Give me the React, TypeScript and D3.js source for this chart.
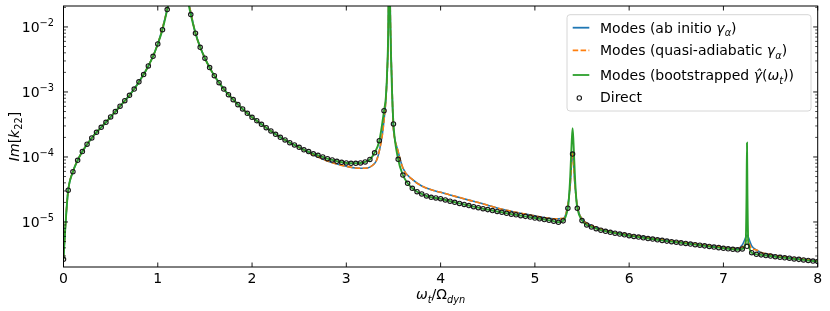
import { useEffect, useRef } from 'react';
import * as d3 from 'd3';

// Direct evaluation, sampled every 0.05 in omega_t / Omega_dyn (0 .. 8)
const directStep = 0.05;
const directY = [
    2.67e-6, 3.08e-5, 5.94e-5, 8.89e-5, 1.21e-4, 1.57e-4, 1.96e-4, 2.40e-4, 2.86e-4, 3.42e-4,
    4.12e-4, 4.98e-4, 6.03e-4, 7.35e-4, 8.89e-4, 1.11e-3, 1.43e-3, 1.85e-3, 2.51e-3, 3.54e-3,
    5.47e-3, 9.08e-3, 1.85e-2, 4.0e-2, 9.0e-2, 8.0e-2, 3.5e-2, 1.55e-2, 8.0e-3, 4.87e-3,
    3.30e-3, 2.37e-3, 1.78e-3, 1.39e-3, 1.11e-3, 9.08e-4, 7.62e-4, 6.38e-4, 5.47e-4, 4.70e-4,
    4.08e-4, 3.61e-4, 3.18e-4, 2.82e-4, 2.51e-4, 2.23e-4, 2.01e-4, 1.83e-4, 1.66e-4, 1.53e-4,
    1.41e-4, 1.29e-4, 1.21e-4, 1.12e-4, 1.06e-4, 1.00e-4, 9.42e-5, 9.00e-5, 8.59e-5, 8.28e-5,
    8.09e-5, 8.00e-5, 8.00e-5, 8.09e-5, 8.38e-5, 9.16e-5, 1.16e-4, 1.78e-4, 5.15e-4, 6.0e-2,
    3.22e-4, 9.22e-5, 5.28e-5, 3.94e-5, 3.30e-5, 2.92e-5, 2.70e-5, 2.51e-5, 2.40e-5, 2.34e-5,
    2.28e-5, 2.18e-5, 2.09e-5, 2.01e-5, 1.93e-5, 1.86e-5, 1.79e-5, 1.72e-5, 1.66e-5, 1.60e-5,
    1.55e-5, 1.50e-5, 1.45e-5, 1.41e-5, 1.36e-5, 1.32e-5, 1.29e-5, 1.25e-5, 1.22e-5, 1.19e-5,
    1.15e-5, 1.12e-5, 1.09e-5, 1.06e-5, 1.03e-5, 9.89e-6, 1.04e-5, 1.63e-5, 1.11e-4, 1.63e-5,
    1.05e-5, 8.99e-6, 8.38e-6, 7.89e-6, 7.48e-6, 7.19e-6, 6.95e-6, 6.73e-6, 6.52e-6, 6.34e-6,
    6.15e-6, 6.00e-6, 5.86e-6, 5.71e-6, 5.57e-6, 5.46e-6, 5.32e-6, 5.21e-6, 5.08e-6, 4.98e-6,
    4.88e-6, 4.77e-6, 4.67e-6, 4.57e-6, 4.48e-6, 4.39e-6, 4.29e-6, 4.20e-6, 4.11e-6, 4.03e-6,
    3.94e-6, 3.87e-6, 3.80e-6, 3.73e-6, 3.85e-6, 4.23e-6, 3.37e-6, 3.18e-6, 3.12e-6, 3.05e-6,
    2.99e-6, 2.92e-6, 2.86e-6, 2.81e-6, 2.77e-6, 2.70e-6, 2.66e-6, 2.61e-6, 2.56e-6, 2.51e-6,
    2.47e-6,
];

// Mode sums (ab initio and quasi-adiabatic overlap almost everywhere), every 0.1
const modesStep = 0.1;
const modesGridY = [
    2.67e-6, 5.94e-5, 1.21e-4, 1.96e-4, 2.86e-4, 4.12e-4, 6.03e-4, 8.89e-4, 1.43e-3, 2.51e-3,
    5.47e-3, 1.85e-2, 8.0e-2, 3.5e-2, 8.0e-3, 3.3e-3, 1.78e-3, 1.11e-3, 7.62e-4, 5.47e-4,
    4.08e-4, 3.18e-4, 2.51e-4, 2.01e-4, 1.66e-4, 1.40e-4, 1.17e-4, 1.00e-4, 8.67e-5, 7.80e-5,
    7.19e-5, 6.78e-5, 6.70e-5, 7.94e-5, 3.71e-4, 2.60e-4, 6.78e-5, 4.51e-5, 3.58e-5, 3.13e-5,
    2.86e-5, 2.60e-5, 2.38e-5, 2.17e-5, 1.99e-5, 1.81e-5, 1.64e-5, 1.52e-5, 1.41e-5, 1.32e-5,
    1.24e-5, 1.17e-5, 1.12e-5, 1.13e-5, 1.19e-4, 1.11e-5, 8.83e-6, 7.80e-6, 7.14e-6, 6.68e-6,
    6.31e-6, 6.00e-6, 5.71e-6, 5.46e-6, 5.21e-6, 4.99e-6, 4.79e-6, 4.59e-6, 4.40e-6, 4.22e-6,
    4.06e-6, 3.94e-6, 4.43e-6, 4.28e-6, 3.40e-6, 3.16e-6, 2.96e-6, 2.83e-6, 2.72e-6, 2.62e-6,
    2.53e-6,
];

// extra samples around the resonances
const abInitioDetailX = [0.05, 0.15, 3.35, 3.43, 3.445, 3.455, 3.47, 3.485, 3.55, 5.35, 5.375, 5.425, 5.45, 7.15, 7.225, 7.25, 7.275, 7.35];
const abInitioDetailY = [3.08e-5, 8.89e-5, 1.24e-4, 1.5e-3, 8e-3, 0.2, 8e-3, 1.2e-3, 1.21e-4, 1.83e-5, 3.71e-5, 3.71e-5, 1.76e-5, 3.91e-6, 5.28e-6, 6.31e-6, 5.28e-6, 3.71e-6];

const quasiDetailX = [0.05, 0.15, 3.35, 3.43, 3.445, 3.455, 3.47, 3.485, 3.55, 5.35, 5.375, 5.425, 5.45, 7.15, 7.2, 7.225, 7.25, 7.275, 7.3, 7.35];
const quasiDetailY = [3.08e-5, 8.89e-5, 1.24e-4, 1.5e-3, 8e-3, 0.2, 8e-3, 1.2e-3, 1.21e-4, 1.83e-5, 3.71e-5, 3.71e-5, 1.76e-5, 3.91e-6, 4.12e-6, 4.59e-6, 5.28e-6, 4.59e-6, 3.85e-6, 3.71e-6];

const bootstrapDetailX = [3.42, 3.435, 3.445, 3.455, 3.465, 3.475, 3.485, 5.375, 5.39, 5.4, 5.41, 5.425, 7.235, 7.245, 7.25, 7.255, 7.265];
const bootstrapDetailY = [8.5e-4, 2.5e-3, 1e-2, 0.2, 1.5e-2, 3e-3, 1e-3, 4.98e-5, 1.63e-4, 2.77e-4, 1.63e-4, 4.98e-5, 4.6e-6, 2.5e-5, 1.66e-4, 2.5e-5, 4.6e-6];

const xTicks = [0, 1, 2, 3, 4, 5, 6, 7, 8];
const yTicks = [1e-5, 1e-4, 1e-3, 1e-2];
const yTickExponents = ['−5', '−4', '−3', '−2'];
const xDomain = [0, 8];
const yDomain = [2.03e-6, 2.1e-2];

type Seg = { t: string; it?: boolean; sub?: boolean; sup?: boolean };

const legendItems: { color: string; dash?: string; marker?: boolean; label: Seg[] }[] = [
    { color: '#1f77b4', label: [{ t: 'Modes (ab initio ' }, { t: 'γ', it: true }, { t: 'α', it: true, sub: true }, { t: ')' }] },
    { color: '#ff7f0e', dash: '5.5,2.4', label: [{ t: 'Modes (quasi-adiabatic ' }, { t: 'γ', it: true }, { t: 'α', it: true, sub: true }, { t: ')' }] },
    { color: '#2ca02c', label: [{ t: 'Modes (bootstrapped ' }, { t: 'γ\u0302', it: true }, { t: '(' }, { t: 'ω', it: true }, { t: 't', it: true, sub: true }, { t: '))' }] },
    { color: '#1a1a1a', marker: true, label: [{ t: 'Direct' }] },
];

const mergeSeries = (step: number, grid: number[], dx: number[], dy: number[]) => {
    const m = new Map<number, number>();
    grid.forEach((v, i) => m.set(Math.round(i * step * 1000), v));
    dx.forEach((x, i) => m.set(Math.round(x * 1000), dy[i]));
    return Array.from(m.entries()).sort((a, b) => a[0] - b[0]).map(([k, v]) => [k / 1000, v] as [number, number]);
};

const richText = (sel: any, segs: Seg[], size: number) => {
    let shift = 0;
    segs.forEach(s => {
        const target = s.sub ? size * 0.25 : s.sup ? -size * 0.42 : 0;
        const ts = sel.append('tspan').attr('dy', target - shift).text(s.t);
        if (s.it) ts.attr('font-style', 'italic');
        if (s.sub || s.sup) ts.attr('font-size', size * 0.7);
        shift = target;
    });
};

const App = () => {
    const svgRef = useRef<SVGSVGElement>(null);

    useEffect(() => {
        if (!svgRef.current) return;
        d3.select(svgRef.current).selectAll('*').remove();

        const W = 830, H = 311;
        const left = 63.5, right = 817.7, top = 6, bottom = 267;
        const fs = 14;

        const svg = d3.select(svgRef.current)
            .attr('width', W)
            .attr('height', H)
            .style('font-family', '"DejaVu Sans", sans-serif');

        const x = d3.scaleLinear().domain(xDomain).range([left, right]);
        const y = d3.scaleLog().domain(yDomain).range([bottom, top]);

        svg.append('defs').append('clipPath').attr('id', 'plot-clip')
            .append('rect').attr('x', left).attr('y', top).attr('width', right - left).attr('height', bottom - top);

        const line = d3.line<[number, number]>()
            .x(d => x(d[0]))
            .y(d => y(d[1]))
            .curve(d3.curveMonotoneX);

        const plot = svg.append('g').attr('clip-path', 'url(#plot-clip)');

        const abInitio = mergeSeries(modesStep, modesGridY, abInitioDetailX, abInitioDetailY);
        const quasi = mergeSeries(modesStep, modesGridY, quasiDetailX, quasiDetailY);
        const boot = mergeSeries(directStep, directY, bootstrapDetailX, bootstrapDetailY);

        plot.append('path').datum(abInitio).attr('d', line)
            .attr('fill', 'none').attr('stroke', '#1f77b4').attr('stroke-width', 1.6);
        plot.append('path').datum(quasi).attr('d', line)
            .attr('fill', 'none').attr('stroke', '#ff7f0e').attr('stroke-width', 1.6)
            .attr('stroke-dasharray', '5.5,2.4');
        plot.append('path').datum(boot).attr('d', line)
            .attr('fill', 'none').attr('stroke', '#2ca02c').attr('stroke-width', 1.9);

        plot.selectAll('circle.direct')
            .data(directY)
            .enter().append('circle')
            .attr('class', 'direct')
            .attr('cx', (_, i) => x(i * directStep))
            .attr('cy', d => y(d))
            .attr('r', 2.2)
            .attr('fill', 'none')
            .attr('stroke', '#1a1a1a')
            .attr('stroke-width', 1.15);

        // frame
        svg.append('rect')
            .attr('x', left).attr('y', top).attr('width', right - left).attr('height', bottom - top)
            .attr('fill', 'none').attr('stroke', '#000').attr('stroke-width', 1);

        // inward ticks on all four sides
        const ticks = svg.append('g').attr('stroke', '#000').attr('stroke-width', 0.9);
        xTicks.forEach(t => {
            ticks.append('line').attr('x1', x(t)).attr('x2', x(t)).attr('y1', bottom).attr('y2', bottom - 4.5);
            ticks.append('line').attr('x1', x(t)).attr('x2', x(t)).attr('y1', top).attr('y2', top + 4.5);
        });
        yTicks.forEach(t => {
            ticks.append('line').attr('x1', left).attr('x2', left + 4.5).attr('y1', y(t)).attr('y2', y(t));
            ticks.append('line').attr('x1', right).attr('x2', right - 4.5).attr('y1', y(t)).attr('y2', y(t));
        });
        const minor: number[] = [];
        d3.range(-6, -1).forEach(e => d3.range(2, 10).forEach(m => {
            const v = m * Math.pow(10, e);
            if (v >= yDomain[0] && v <= yDomain[1]) minor.push(v);
        }));
        minor.forEach(t => {
            ticks.append('line').attr('x1', left).attr('x2', left + 2.5).attr('y1', y(t)).attr('y2', y(t)).attr('stroke-width', 0.7);
            ticks.append('line').attr('x1', right).attr('x2', right - 2.5).attr('y1', y(t)).attr('y2', y(t)).attr('stroke-width', 0.7);
        });

        // tick labels
        xTicks.forEach(t => {
            svg.append('text').attr('x', x(t)).attr('y', 282.7)
                .attr('text-anchor', 'middle').attr('font-size', fs).attr('fill', '#000')
                .text(String(t));
        });
        yTicks.forEach((t, i) => {
            const txt = svg.append('text').attr('x', 54).attr('y', y(t) + 5)
                .attr('text-anchor', 'end').attr('font-size', fs).attr('fill', '#000');
            richText(txt, [{ t: '10' }, { t: yTickExponents[i], sup: true }], fs);
        });

        // axis labels
        const xl = svg.append('text').attr('x', (left + right) / 2).attr('y', 299)
            .attr('text-anchor', 'middle').attr('font-size', fs);
        richText(xl, [{ t: 'ω', it: true }, { t: 't', it: true, sub: true }, { t: '/Ω' }, { t: 'dyn', it: true, sub: true }], fs);

        const yl = svg.append('text')
            .attr('transform', `translate(18.5,${(top + bottom) / 2}) rotate(-90)`)
            .attr('text-anchor', 'middle').attr('font-size', fs);
        richText(yl, [{ t: 'Im', it: true }, { t: '[' }, { t: 'k', it: true }, { t: '22', sub: true }, { t: ']' }], fs);

        // legend
        const lg = svg.append('g');
        lg.append('rect').attr('x', 567).attr('y', 14.7).attr('width', 244).attr('height', 96.3)
            .attr('rx', 3).attr('fill', '#fff').attr('fill-opacity', 0.8)
            .attr('stroke', '#d6d6d6').attr('stroke-width', 1);
        const baselines = [32.7, 55.3, 80, 102.3];
        legendItems.forEach((item, i) => {
            const by = baselines[i];
            if (item.marker) {
                lg.append('circle').attr('cx', 579.3).attr('cy', by - 4.3).attr('r', 2.2)
                    .attr('fill', 'none').attr('stroke', item.color).attr('stroke-width', 1.1);
            } else {
                const l = lg.append('line').attr('x1', 572.7).attr('x2', 589.3)
                    .attr('y1', by - 5).attr('y2', by - 5)
                    .attr('stroke', item.color).attr('stroke-width', 1.8);
                if (item.dash) l.attr('stroke-dasharray', item.dash);
            }
            const t = lg.append('text').attr('x', 600).attr('y', by).attr('font-size', fs).attr('fill', '#000');
            richText(t, item.label, fs);
        });
    }, []);

    return (
        <div style={{ position: 'fixed', left: 0, top: 0 }}>
            <svg ref={svgRef} style={{ display: 'block' }}></svg>
        </div>
    );
};

export default App;
